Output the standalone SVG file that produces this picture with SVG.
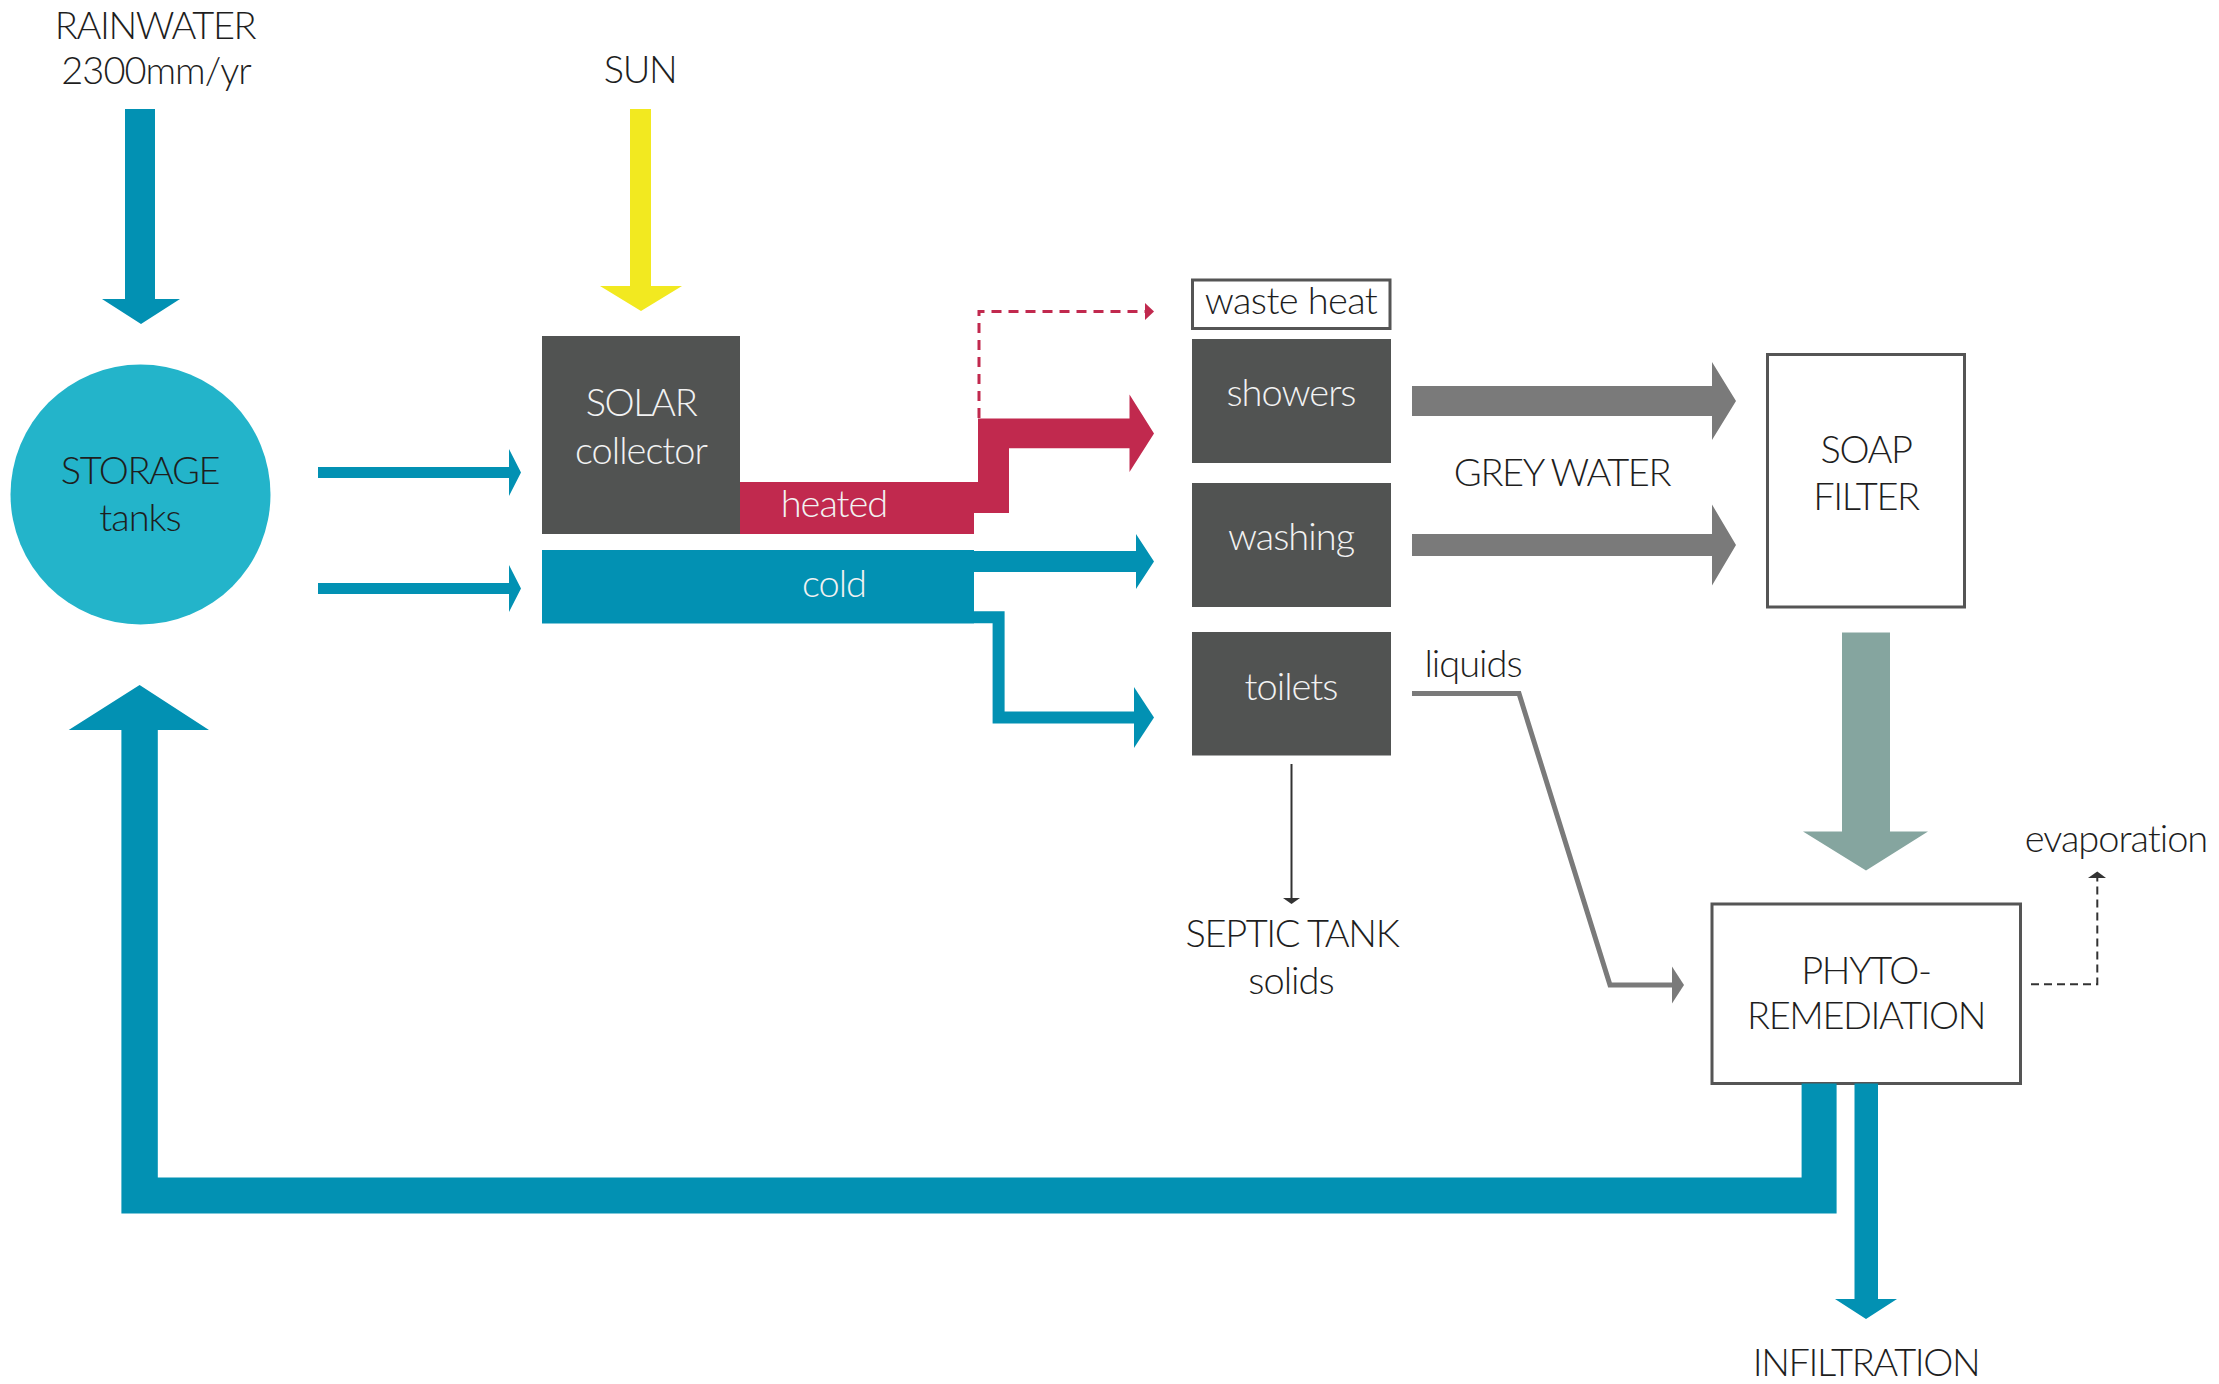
<svg xmlns="http://www.w3.org/2000/svg" width="2219" height="1384" viewBox="0 0 2219 1384">
<style>
  text { font-family: Lato, Roboto, "Liberation Sans", sans-serif; font-weight: 300; font-size: 38px; letter-spacing: -1px; text-anchor: middle; }
  text.cap { letter-spacing: -1.4px; }
  .dk { fill: #1e1e1e; }
  .wt { fill: #f2f2f2; }
  .box { fill: #515352; }
  .obox { fill: #ffffff; stroke: #555555; stroke-width: 3; }
  .teal { fill: #0291b3; }
  .red { fill: #c1294e; }
  .grey { fill: #7a7a7a; }
</style>
<rect width="2219" height="1384" fill="#ffffff"/>

<g id="rainwater">
  <text class="dk cap" x="155" y="39">RAINWATER</text>
  <text class="dk" x="156" y="84">2300mm/yr</text>
</g>
<g id="sun">
  <text class="dk cap" x="640" y="83">SUN</text>
</g>
<g id="storage">
  <circle cx="140.5" cy="494.5" r="130" fill="#23b4ca"/>
  <text class="dk cap" x="140" y="484">STORAGE</text>
  <text class="dk" x="140" y="531">tanks</text>
</g>
<g id="solar">
  <rect class="box" x="542" y="336" width="198" height="198"/>
  <text class="wt cap" x="641" y="416">SOLAR</text>
  <text class="wt" x="641" y="464">collector</text>
</g>
<g id="heated">
  <rect class="red" x="740" y="482" width="234" height="52"/>
  <text class="wt" x="834" y="517">heated</text>
</g>
<g id="cold">
  <rect class="teal" x="542" y="550" width="432" height="73.5"/>
  <text class="wt" x="834" y="597">cold</text>
</g>
<g id="waste-heat">
  <rect class="obox" x="1192.5" y="280" width="197.5" height="48.5"/>
  <text class="dk" x="1291" y="314" style="letter-spacing:-0.6px">waste heat</text>
</g>
<g id="showers">
  <rect class="box" x="1192" y="339" width="199" height="124"/>
  <text class="wt" x="1291" y="406">showers</text>
</g>
<g id="washing">
  <rect class="box" x="1192" y="483" width="199" height="124"/>
  <text class="wt" x="1291" y="550">washing</text>
</g>
<g id="toilets">
  <rect class="box" x="1192" y="632" width="199" height="123.5"/>
  <text class="wt" x="1291" y="700">toilets</text>
</g>
<g id="grey-water-label">
  <text class="dk cap" x="1562" y="486">GREY WATER</text>
</g>
<g id="soap-filter">
  <rect class="obox" x="1767.5" y="354.5" width="197" height="252.5"/>
  <text class="dk cap" x="1866" y="463">SOAP</text>
  <text class="dk cap" x="1866" y="510">FILTER</text>
</g>
<g id="liquids-label">
  <text class="dk" x="1473" y="677">liquids</text>
</g>
<g id="septic-tank">
  <text class="dk cap" x="1292" y="947">SEPTIC TANK</text>
  <text class="dk" x="1291" y="994">solids</text>
</g>
<g id="phytoremediation">
  <rect class="obox" x="1712" y="904" width="308.5" height="179.5"/>
  <text class="dk cap" x="1866" y="984">PHYTO-</text>
  <text class="dk cap" x="1866" y="1029">REMEDIATION</text>
</g>
<g id="evaporation">
  <text class="dk" x="2116" y="852">evaporation</text>
</g>
<g id="infiltration">
  <text class="dk cap" x="1866" y="1376">INFILTRATION</text>
</g>

<g id="connectors">
  <!-- rainwater to storage -->
  <polygon class="teal" points="125,109 155,109 155,299 180,299 141,324 102,299 125,299"/>
  <!-- sun to solar -->
  <polygon fill="#f2e920" points="630,109 651,109 651,286 682,286 641,311 600,286 630,286"/>
  <!-- storage to solar / cold -->
  <polygon class="teal" points="318,467 509,467 509,449 521,472.5 509,496 509,478 318,478"/>
  <polygon class="teal" points="318,583 509,583 509,565 521,588.5 509,612 509,594 318,594"/>
  <!-- waste heat dashed -->
  <path d="M979,418 V311.5 H1146" fill="none" stroke="#c1294e" stroke-width="3" stroke-dasharray="10 7"/>
  <polygon class="red" points="1145,303 1154,311.5 1145,320"/>
  <!-- heated to showers -->
  <polygon class="red" points="974,482 978,482 978,418.5 1129.5,418.5 1129.5,394.5 1154,433.5 1129.5,472 1129.5,448.3 1009,448.3 1009,513 974,513"/>
  <!-- cold to washing -->
  <polygon class="teal" points="974,551 1136,551 1136,534 1154,561.5 1136,589 1136,572 974,572"/>
  <!-- cold to toilets -->
  <polyline points="974,617.3 998.6,617.3 998.6,717.4 1135,717.4" fill="none" stroke="#0291b3" stroke-width="12"/>
  <polygon class="teal" points="1134,687 1154,717.5 1134,748"/>
  <!-- grey water arrows -->
  <polygon class="grey" points="1412,386 1712,386 1712,362 1736,401 1712,440 1712,416 1412,416"/>
  <polygon class="grey" points="1412,534 1712,534 1712,504.5 1736,545 1712,585.5 1712,556 1412,556"/>
  <!-- soap filter to phyto -->
  <polygon fill="#85a59f" points="1842,632.5 1890,632.5 1890,831.5 1928,831.5 1866,870.5 1803,831.5 1842,831.5"/>
  <!-- liquids -->
  <polyline points="1412,693.5 1519,693.5 1610,985 1673,985" fill="none" stroke="#7a7a7a" stroke-width="5"/>
  <polygon class="grey" points="1672,966.5 1684,985 1672,1003.5"/>
  <!-- septic -->
  <line x1="1291.5" y1="764" x2="1291.5" y2="899" stroke="#333333" stroke-width="2"/>
  <polygon fill="#333333" points="1283,898 1300,898 1291.5,904"/>
  <!-- evaporation -->
  <path d="M2031,984.3 H2097.3 V878" fill="none" stroke="#333333" stroke-width="2" stroke-dasharray="8 5"/>
  <polygon fill="#333333" points="2088,878 2106,878 2097.3,871.5"/>
  <!-- return to storage -->
  <polygon class="teal" points="139.6,685 209,730 157.8,730 157.8,1177.5 1801.6,1177.5 1801.6,1083.5 1836.6,1083.5 1836.6,1213.5 121.4,1213.5 121.4,730 68.7,730"/>
  <!-- infiltration -->
  <polygon class="teal" points="1854.5,1083.5 1878,1083.5 1878,1299 1897,1299 1866,1319 1835,1299 1854.5,1299"/>
</g>
</svg>
